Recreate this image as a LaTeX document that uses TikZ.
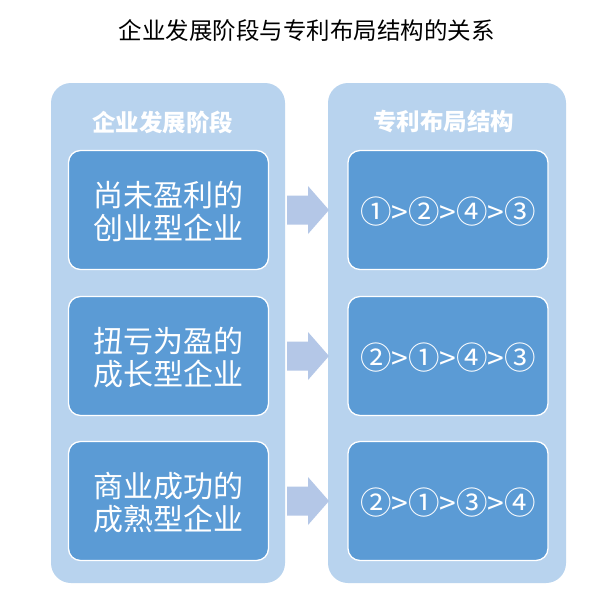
\documentclass[tikz,border=0pt]{standalone}
\usepackage{fontspec}
\setmainfont{Noto Sans CJK SC}
\definecolor{contbg}{RGB}{184,211,238}
\definecolor{innerbg}{RGB}{91,155,213}
\definecolor{arrowbg}{RGB}{180,199,231}
\newcommand\cnum[1]{{\fontsize{31.5}{33}\selectfont#1}}
\begin{document}
\begin{tikzpicture}[x=1pt,y=-1pt,
  container/.style={fill=contbg,rounded corners=20pt},
  innerbox/.style={fill=innerbg,draw=white,line width=1.3pt,rounded corners=12pt,minimum width=200pt,minimum height=119pt,inner sep=0pt},
  boxtext/.style={text=white,font=\fontsize{30}{33}\selectfont,align=center,inner sep=0pt},
  header/.style={text=white,font=\bfseries\fontsize{23.5}{26}\selectfont},
  flowarrow/.style={fill=arrowbg}
]
\useasboundingbox (0,0) rectangle (613,595);
\fill[white] (0,0) rectangle (613,595);
\node[font=\fontsize{23.5}{27}\selectfont] (title) at (306.5,31) {企业发展阶段与专利布局结构的关系};
\fill[container] (51,83) rectangle (285,583);
\fill[container] (328,83) rectangle (566,583);
\node[header] (h1) at (162.5,122) {企业发展阶段};
\node[header] (h2) at (443.5,122) {专利布局结构};
\node[innerbox] (a1) at (168.5,210) {};
\node[innerbox] (a2) at (168.5,356) {};
\node[innerbox] (a3) at (168.5,501) {};
\node[innerbox] (b1) at (448,210) {};
\node[innerbox] (b2) at (448,356) {};
\node[innerbox] (b3) at (448,501) {};
\node[boxtext] (ta1) at ([yshift=-1.5pt]a1.center) {尚未盈利的\\创业型企业};
\node[boxtext] (ta2) at ([yshift=-1.5pt]a2.center) {扭亏为盈的\\成长型企业};
\node[boxtext] (ta3) at ([yshift=-1.5pt]a3.center) {商业成功的\\成熟型企业};
\node[boxtext] (tb1) at ([yshift=-2pt]b1.center) {\cnum{①}>\cnum{②}>\cnum{④}>\cnum{③}};
\node[boxtext] (tb2) at ([yshift=-2pt]b2.center) {\cnum{②}>\cnum{①}>\cnum{④}>\cnum{③}};
\node[boxtext] (tb3) at ([yshift=-2pt]b3.center) {\cnum{②}>\cnum{①}>\cnum{③}>\cnum{④}};
\foreach \y in {210,356,501}{
  \fill[flowarrow] (287,\y-14.5) -- (308,\y-14.5) -- (308,\y-24) -- (329,\y) -- (308,\y+24) -- (308,\y+14.5) -- (287,\y+14.5) -- cycle;
}
\end{tikzpicture}
\end{document}
